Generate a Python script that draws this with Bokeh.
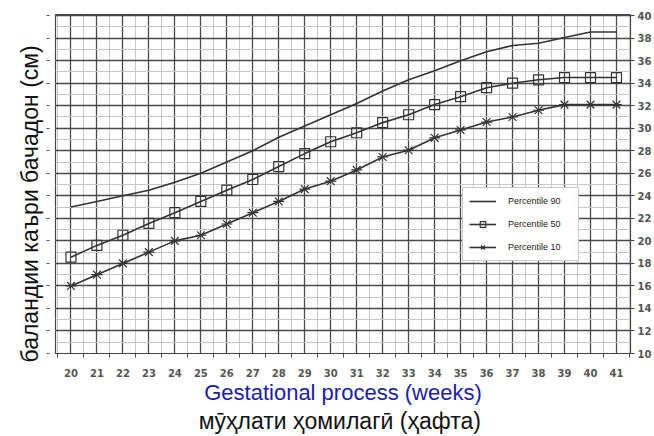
from bokeh.plotting import figure
from bokeh.models import Range1d, LinearAxis, FixedTicker, Legend, LegendItem, Title
from bokeh.embed import file_html
from bokeh.resources import INLINE

weeks = list(range(20, 42))
p90 = [23.0, 23.5, 24.0, 24.5, 25.2, 26.0, 27.0, 28.0, 29.2, 30.2, 31.2,
       32.2, 33.3, 34.3, 35.1, 36.0, 36.8, 37.35, 37.55, 38.05, 38.55, 38.55]
p50 = [18.55, 19.6, 20.5, 21.55, 22.5, 23.5, 24.5, 25.45, 26.6, 27.75, 28.8,
       29.6, 30.5, 31.2, 32.1, 32.8, 33.6, 34.0, 34.3, 34.5, 34.5, 34.5]
p10 = [16.0, 17.0, 18.0, 19.0, 20.0, 20.5, 21.5, 22.5, 23.5, 24.6, 25.3,
       26.3, 27.45, 28.05, 29.15, 29.85, 30.55, 31.0, 31.6, 32.1, 32.1, 32.1]
y_ticks = list(range(10, 41, 2))
y_minor = list(range(10, 41))
x_minor = [w + 0.5 for w in range(19, 42)]

series_labels = ["Percentile 90", "Percentile 50", "Percentile 10"]
y_title = "баландии каъри бачадон (см)"
x_title_en = "Gestational process (weeks)"
x_title_tj = "мӯҳлати  ҳомилагӣ (ҳафта)"

LINE = "#333333"

p = figure(width=654, height=436, output_backend="svg", toolbar_location=None,
           x_range=Range1d(19.405, 41.54), y_range=Range1d(10, 40.1),
           min_border_left=55, min_border_right=22, min_border_top=14,
           min_border_bottom=82, background_fill_color="white",
           border_fill_color="white")
p.outline_line_color = "#444444"
p.outline_line_width = 1.2

xt = FixedTicker(ticks=weeks, minor_ticks=x_minor)
yt = FixedTicker(ticks=y_ticks, minor_ticks=y_minor)

# bottom axis
xa = p.xaxis[0]
xa.ticker = xt
xa.axis_line_color = "#444444"
xa.major_tick_out = 0
xa.major_tick_in = 0
xa.minor_tick_out = 4
xa.minor_tick_in = 0
xa.minor_tick_line_color = "#444444"
xa.major_label_standoff = 11
xa.major_label_text_font = "DejaVu Sans"
xa.major_label_text_font_size = "10px"
xa.major_label_text_font_style = "bold"
xa.major_label_text_color = "#555555"

# left axis: only detached ticks
ya = p.yaxis[0]
ya.ticker = yt
ya.axis_line_color = None
ya.major_tick_in = -6
ya.major_tick_out = 9
ya.major_tick_line_color = "#555555"
ya.minor_tick_line_color = None
ya.major_label_text_font_size = "1px"
ya.major_label_text_color = None
ya.major_label_standoff = 0

# y title, shifted a little below the frame centre as in the reference
yttl = Title(text=y_title, align="left", offset=-9, standoff=8,
             text_font="Liberation Sans", text_font_size="23px",
             text_font_style="normal", text_color="#111111")
p.add_layout(yttl, "left")

# right axis with labels
ra = LinearAxis(ticker=yt)
ra.axis_line_color = None
ra.major_tick_out = 4
ra.major_tick_in = 0
ra.major_tick_line_color = "#444444"
ra.minor_tick_line_color = None
ra.major_label_standoff = 3
ra.major_label_text_font = "DejaVu Sans"
ra.major_label_text_font_size = "10px"
ra.major_label_text_font_style = "bold"
ra.major_label_text_color = "#555555"
p.add_layout(ra, "right")

# extra below axes carrying the two x titles
for txt, col, so, fs in [(x_title_en, "#2020a0", 0, "22px"),
                         (x_title_tj, "#111111", 0, "23px")]:
    ax = LinearAxis(ticker=FixedTicker(ticks=[]))
    ax.axis_line_color = None
    ax.major_tick_line_color = None
    ax.minor_tick_line_color = None
    ax.major_label_text_font_size = "1px"
    ax.major_label_text_color = None
    ax.major_label_standoff = 0
    ax.major_tick_out = 0
    ax.axis_label = txt
    ax.axis_label_text_font = "Liberation Sans"
    ax.axis_label_text_font_size = fs
    ax.axis_label_text_font_style = "normal"
    ax.axis_label_text_color = col
    ax.axis_label_standoff = so
    p.add_layout(ax, "below")

# grids
p.xgrid.ticker = xt
p.ygrid.ticker = yt
for g in (p.xgrid, p.ygrid):
    g.grid_line_color = "#4a4a4a"
    g.grid_line_width = 1.3
    g.minor_grid_line_color = "#c8c8c8"
    g.minor_grid_line_width = 1

r90 = p.line(weeks, p90, line_color=LINE, line_width=1.6)
r50l = p.line(weeks, p50, line_color=LINE, line_width=1.6)
r50m = p.scatter(weeks, p50, marker="square", size=10, line_color=LINE,
                 line_width=1.2, fill_alpha=0)
r10l = p.line(weeks, p10, line_color=LINE, line_width=1.6)
r10x = p.scatter(weeks, p10, marker="x", size=11, line_color=LINE, line_width=1.2)
r10d = p.scatter(weeks, p10, marker="dash", size=11, line_color=LINE, line_width=1.2)

legend = Legend(items=[
    LegendItem(label=series_labels[0], renderers=[r90]),
    LegendItem(label=series_labels[1], renderers=[r50l, r50m]),
    LegendItem(label=series_labels[2], renderers=[r10l, r10x, r10d]),
], location=(407, 92))
legend.label_text_font = "Liberation Sans"
legend.label_text_font_size = "9px"
legend.label_text_color = "#222222"
legend.glyph_width = 27
legend.glyph_height = 14
legend.label_standoff = 12
legend.label_width = 64
legend.spacing = 9
legend.padding = 6
legend.margin = 0
legend.border_line_color = "#999999"
legend.border_line_width = 1
legend.background_fill_color = "white"
legend.background_fill_alpha = 1
p.add_layout(legend, "center")

open("out.html", "w").write(file_html(p, INLINE))
